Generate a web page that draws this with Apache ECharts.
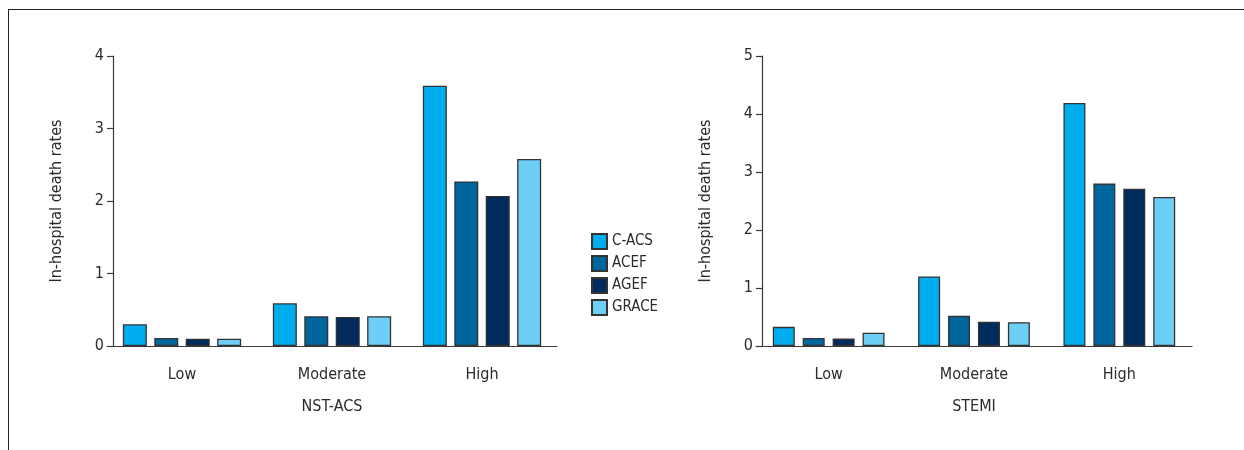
<!DOCTYPE html>
<html>
<head>
<meta charset="utf-8">
<script src="https://cdn.jsdelivr.net/npm/echarts@6/dist/echarts.min.js"></script>
<style>
  html, body { margin: 0; padding: 0; background: #fff; }
  #chart { position: absolute; left: 0; top: 0; width: 1244px; height: 450px; }
  #frame { position: absolute; left: 8px; top: 9px; width: 1244px; height: 450px;
           border-top: 1.5px solid #222; border-left: 1.5px solid #222; pointer-events: none; box-sizing: border-box; }
</style>
</head>
<body>
<div id="chart"></div>
<div id="frame"></div>
<script>
const categories = ['Low', 'Moderate', 'High'];
const seriesNames = ['C-ACS', 'ACEF', 'AGEF', 'GRACE'];
const colors = ['#00AEEF', '#00679E', '#002B5C', '#6DCFF6'];

// NST-ACS panel
const nstCACS  = [0.30, 0.59, 3.59];
const nstACEF  = [0.11, 0.41, 2.27];
const nstAGEF  = [0.10, 0.40, 2.07];
const nstGRACE = [0.10, 0.41, 2.58];

// STEMI panel
const stCACS  = [0.33, 1.20, 4.19];
const stACEF  = [0.14, 0.52, 2.80];
const stAGEF  = [0.13, 0.42, 2.71];
const stGRACE = [0.23, 0.41, 2.57];

const leftTicks = { min: 0, max: 4, interval: 1 };
const rightTicks = { min: 0, max: 5, interval: 1 };

const FONT = '"Liberation Sans Narrow", "DejaVu Sans Condensed", sans-serif';
const TXT = '#2b2b2b';
const AX = '#3a3a3a';

function xAxisFor(gridIndex, name) {
  return {
    type: 'category', gridIndex, data: categories,
    name, nameLocation: 'middle', nameGap: 53,
    nameTextStyle: { fontFamily: FONT, fontSize: 16, color: TXT },
    axisLine: { lineStyle: { color: AX, width: 1.2 } },
    axisTick: { alignWithLabel: true, length: 6, lineStyle: { color: AX, width: 1.2 } },
    axisLabel: { fontFamily: FONT, fontSize: 16, color: TXT, margin: 21 }
  };
}
function yAxisFor(gridIndex, t) {
  return {
    type: 'value', gridIndex, min: t.min, max: t.max, interval: t.interval,
    offset: -6,
    name: 'In-hospital death rates', nameLocation: 'middle', nameGap: 48,
    nameTextStyle: { fontFamily: FONT, fontSize: 16, color: TXT },
    splitLine: { show: false },
    axisLine: { show: true, lineStyle: { color: AX, width: 1.2 } },
    axisTick: { show: true, length: 6, lineStyle: { color: AX, width: 1.2 } },
    axisLabel: { fontFamily: FONT, fontSize: 16, color: TXT, margin: 9 }
  };
}
function bar(name, data, idx, i, bw, gap) {
  return {
    type: 'bar', name, data, xAxisIndex: idx, yAxisIndex: idx,
    barWidth: bw, barGap: gap,
    itemStyle: { color: colors[i], borderColor: '#333', borderWidth: 1.3 },
    emphasis: { disabled: true }
  };
}

const chart = echarts.init(document.getElementById('chart'), null, { renderer: 'canvas' });
chart.setOption({
  animation: false,
  backgroundColor: 'transparent',
  legend: {
    data: seriesNames, orient: 'vertical', left: 586, top: 228,
    icon: 'rect', itemWidth: 15, itemHeight: 15, itemGap: 5,
    textStyle: { fontFamily: FONT, fontSize: 15, color: TXT }
  },
  grid: [
    { left: 107, top: 56, width: 450, height: 290 },
    { left: 756, top: 56, width: 436, height: 290 }
  ],
  xAxis: [xAxisFor(0, 'NST-ACS'), xAxisFor(1, 'STEMI')],
  yAxis: [yAxisFor(0, leftTicks), yAxisFor(1, rightTicks)],
  series: [
    bar(seriesNames[0], nstCACS, 0, 0, 24, '31%'),
    bar(seriesNames[1], nstACEF, 0, 1, 24, '31%'),
    bar(seriesNames[2], nstAGEF, 0, 2, 24, '31%'),
    bar(seriesNames[3], nstGRACE, 0, 3, 24, '31%'),
    bar(seriesNames[0], stCACS, 1, 0, 22, '36%'),
    bar(seriesNames[1], stACEF, 1, 1, 22, '36%'),
    bar(seriesNames[2], stAGEF, 1, 2, 22, '36%'),
    bar(seriesNames[3], stGRACE, 1, 3, 22, '36%')
  ]
});
</script>
</body>
</html>
